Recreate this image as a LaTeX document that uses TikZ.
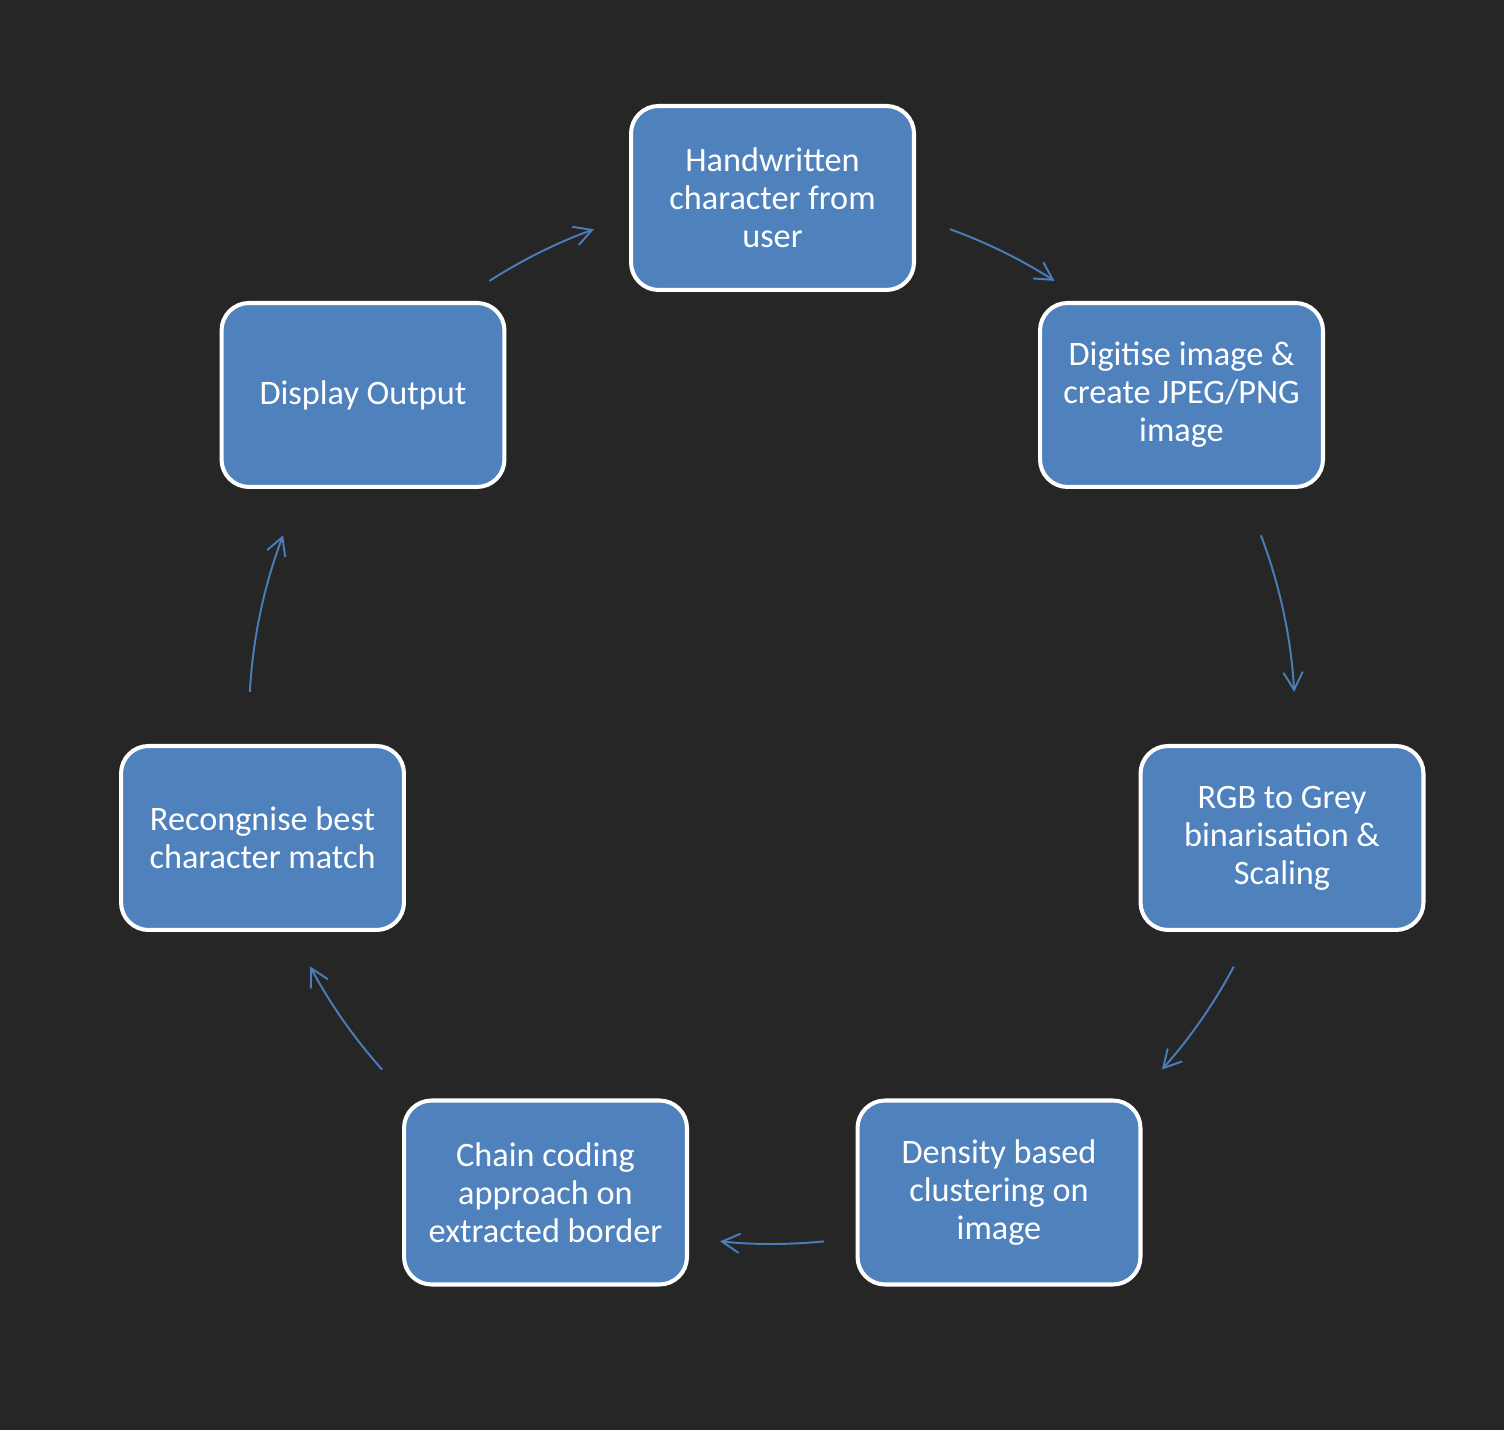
\documentclass[tikz,border=0pt]{standalone}
\usepackage{fontspec}
\setmainfont{Carlito}
\usetikzlibrary{arrows.meta,calc}
\definecolor{bgdark}{HTML}{262626}
\definecolor{boxblue}{HTML}{4F81BD}
\definecolor{arcblue}{HTML}{4A7EBB}
\tikzset{
    stage/.style={draw=white,line width=2.3pt,fill=boxblue,rounded corners=0.55cm,
        minimum width=5.66cm,minimum height=3.68cm,align=center,text=white,
        font=\fontsize{19.5}{21.6}\selectfont},
    flow/.style={arcblue,line width=1.1pt,-{Straight Barb[length=10pt,width=11pt]}}
}
\begin{document}
\begin{tikzpicture}[x=0.02cm,y=0.02cm]
    % background
    \fill[bgdark] (0,0) rectangle (1504,1430);
    \useasboundingbox (0,0) rectangle (1504,1430);

    % stages
    \node[stage] (hw) at (772.5,1232) {Handwritten\\character from\\user};
    \node[stage] (dig) at (1181.5,1035) {Digitise image \&\\create JPEG/PNG\\image};
    \node[stage] (rgb) at (1282,592) {RGB to Grey\\binarisation \&\\Scaling};
    \node[stage] (dens) at (999,237.5) {Density based\\clustering on\\image};
    \node[stage] (chain) at (545.5,237.5) {Chain coding\\approach on\\extracted border};
    \node[stage] (recog) at (262.5,592) {Recongnise best\\character match};
    \node[stage] (disp) at (363,1035) {Display Output};

    % arcs of the cycle
    \coordinate (c) at (772,709);
    \coordinate (a1) at ($(c)+(70.1:523)$);
    \coordinate (a2) at ($(c)+(20.8:523)$);
    \coordinate (a3) at ($(c)+(-28:523)$);
    \coordinate (a4) at ($(c)+(-84.3:523)$);
    \coordinate (a5) at ($(c)+(-138.2:523)$);
    \coordinate (a6) at ($(c)+(176.8:523)$);
    \coordinate (a7) at ($(c)+(122.7:523)$);
    \draw[flow] (a1) arc[start angle=70.1,end angle=57.3,radius=523];
    \draw[flow] (a2) arc[start angle=20.8,end angle=3.2,radius=523];
    \draw[flow] (a3) arc[start angle=-28,end angle=-41.8,radius=523];
    \draw[flow] (a4) arc[start angle=-84.3,end angle=-95.7,radius=523];
    \draw[flow] (a5) arc[start angle=-138.2,end angle=-152,radius=523];
    \draw[flow] (a6) arc[start angle=176.8,end angle=159.2,radius=523];
    \draw[flow] (a7) arc[start angle=122.7,end angle=109.9,radius=523];
\end{tikzpicture}
\end{document}
